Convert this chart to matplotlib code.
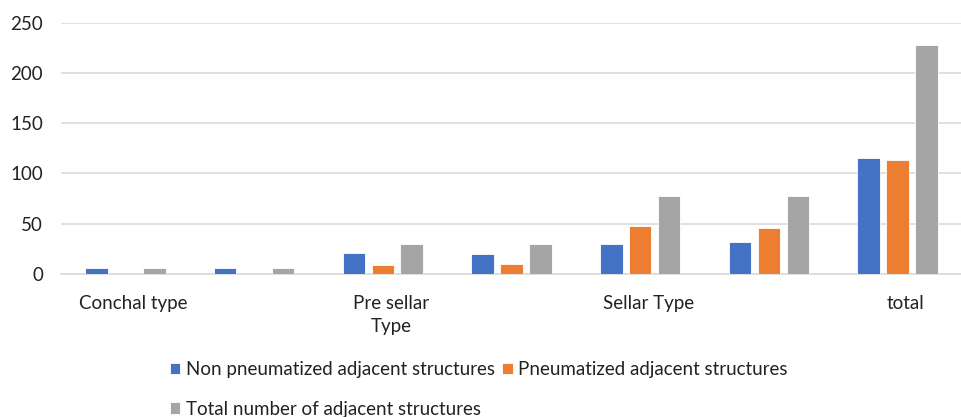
import matplotlib
matplotlib.use("Agg")
import matplotlib.pyplot as plt
import matplotlib.transforms as mtransforms
import numpy as np

plt.rcParams['font.family'] = ['Lato', 'DejaVu Sans']

# Category axis: Excel-style labels shown on every other group
tick_labels = ["Conchal type", "", "Pre sellar\nType", "", "Sellar Type", "", "total"]

series_names = [
    "Non pneumatized adjacent structures",
    "Pneumatized adjacent structures",
    "Total number of adjacent structures",
]
non_pneumatized = [6, 6, 21, 20, 30, 32, 115]
pneumatized = [0, 0, 9, 10, 48, 46, 113]
total_structures = [6, 6, 30, 30, 78, 78, 228]

colors = ["#4472C4", "#ED7D31", "#A5A5A5"]
y_ticks = [0, 50, 100, 150, 200, 250]
FS = 13.5

fig = plt.figure(figsize=(9.62, 4.17), dpi=100)
ax = fig.add_axes([0.0634, 0.343, 0.9366, 0.6026])

x = np.arange(len(tick_labels))
bar_w = 0.175
offsets = [-0.225, 0.0, 0.225]
handles = []
for vals, off, col, name in zip([non_pneumatized, pneumatized, total_structures],
                                offsets, colors, series_names):
    h = ax.bar(x + off, vals, width=bar_w, color=col, edgecolor="white",
               linewidth=0.6, label=name, zorder=3)
    handles.append(h)

ax.set_xlim(-0.5, len(tick_labels) - 0.5)
ax.set_ylim(0, 250)
ax.set_yticks(y_ticks)
ax.set_xticks(x)
ax.set_xticklabels(tick_labels, fontsize=FS, color="#222222", linespacing=1.45)
ax.tick_params(axis="both", length=0, labelsize=FS, colors="#222222")
ax.tick_params(axis="x", pad=15)
ax.tick_params(axis="y", pad=13)

# nudge category labels slightly right
shift = mtransforms.ScaledTranslation(8 / 100, 0, fig.dpi_scale_trans)
for lbl in ax.get_xticklabels():
    lbl.set_transform(lbl.get_transform() + shift)

ax.grid(axis="y", color="#d9d9d9", linewidth=1.2, zorder=0)
for s in ["top", "right", "left"]:
    ax.spines[s].set_visible(False)
ax.spines["bottom"].set_color("#d9d9d9")
ax.spines["bottom"].set_linewidth(1.2)
ax.spines["bottom"].set_zorder(1)

# legend: two items on the first row, one on the second
leg = fig.legend([handles[0], handles[2], handles[1]],
                 [series_names[0], series_names[2], series_names[1]],
                 ncol=2, loc="upper left",
                 bbox_to_anchor=(170 / 962, 1 - 361 / 417),
                 frameon=False, fontsize=FS,
                 handlelength=0.55, handleheight=0.55, handletextpad=0.3,
                 columnspacing=0.4, labelspacing=1.2, borderpad=0,
                 borderaxespad=0)
for t in leg.get_texts():
    t.set_color("#222222")

fig.savefig("out.png", dpi=100)
